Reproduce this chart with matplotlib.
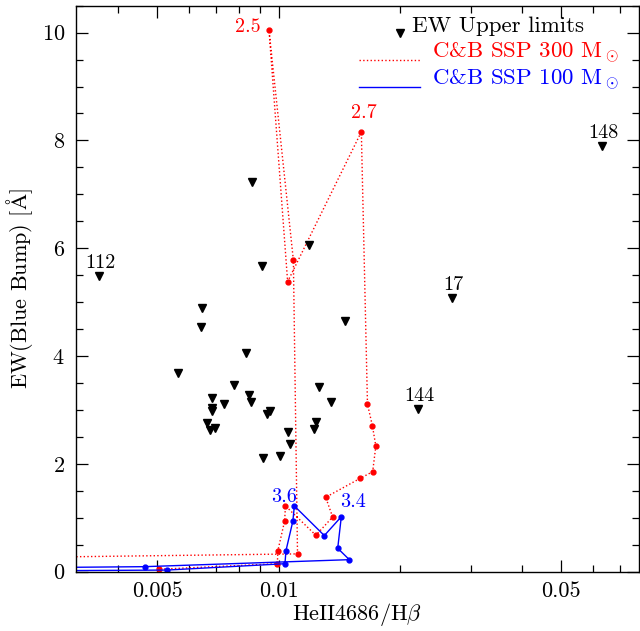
import numpy as np
import matplotlib
matplotlib.use('Agg')
import matplotlib.pyplot as plt
from matplotlib.ticker import FixedLocator, FixedFormatter, LogLocator, MultipleLocator, NullFormatter

plt.rcParams['font.family'] = ['cmr10', 'DejaVu Serif']
plt.rcParams['mathtext.fontset'] = 'cm'
plt.rcParams['axes.formatter.use_mathtext'] = True

# EW upper limits (HeII4686/Hbeta, EW blue bump)
uplim_x = [0.00360, 0.00860, 0.00909, 0.01189, 0.0633, 0.0269, 0.0222,
           0.00648, 0.00644, 0.00564, 0.00831, 0.01464, 0.00774, 0.00685,
           0.00731, 0.00685, 0.00683, 0.00846, 0.00853, 0.00664, 0.00695,
           0.00675, 0.00952, 0.00935, 0.01055, 0.01067, 0.00917, 0.01007,
           0.01259, 0.01346, 0.01236, 0.01224]
uplim_y = [5.49, 7.22, 5.68, 6.06, 7.90, 5.07, 3.02,
           4.90, 4.53, 3.69, 4.05, 4.65, 3.47, 3.23,
           3.12, 3.04, 2.98, 3.27, 3.14, 2.76, 2.67,
           2.62, 2.98, 2.93, 2.60, 2.37, 2.10, 2.15,
           3.43, 3.14, 2.77, 2.65]
# labelled objects: index into uplim arrays, label
obj_idx = [0, 4, 5, 6]
obj_names = ['112', '148', '17', '144']

# C&B SSP 300 Msun track
ssp300_x = [0.001, 0.01114, 0.01088, 0.00947, 0.01053, 0.01603, 0.01660,
            0.01708, 0.01741, 0.01710, 0.01591, 0.01308, 0.01361, 0.01237,
            0.01040, 0.01035, 0.00996, 0.00993, 0.00506]
ssp300_y = [0.23, 0.33, 5.78, 10.04, 5.38, 8.16, 3.11,
            2.70, 2.33, 1.855, 1.73, 1.38, 1.015, 0.675,
            1.22, 0.94, 0.39, 0.148, 0.045]

# C&B SSP 100 Msun track
ssp100_x = [0.001, 0.00529, 0.01037, 0.01043, 0.01085, 0.01094, 0.01298,
            0.01430, 0.01401, 0.01497, 0.00466, 0.001]
ssp100_y = [0.0, 0.03, 0.148, 0.39, 0.94, 1.22, 0.67,
            1.02, 0.434, 0.223, 0.093, 0.05]

# age labels (Myr): index on track, text
age300 = [(3, '2.5'), (5, '2.7')]
age100 = [(5, '3.6'), (7, '3.4')]

xticks = [0.005, 0.01, 0.05]
xticklabels = ['0.005', '0.01', '0.05']

fig = plt.figure(figsize=(6.4, 6.31), dpi=100)
ax = fig.add_axes([0.11875, 0.094, 0.8794, 0.897])

ax.plot(ssp300_x, ssp300_y, ls=':', color='red', lw=1.0,
        marker='o', ms=3.5, mec='red', mfc='red')
ax.plot(ssp100_x, ssp100_y, ls='-', color='blue', lw=1.0,
        marker='o', ms=3.5, mec='blue', mfc='blue')
ax.plot(uplim_x, uplim_y, ls='none', marker='v', ms=6, color='black')

fs = 16
afs = 14.5
for i, name in zip(obj_idx, obj_names):
    ax.annotate(name, (uplim_x[i], uplim_y[i]), xytext=(1, 13),
                textcoords='offset pixels', ha='center', va='center', fontsize=afs)

ax.annotate(age300[0][1], (ssp300_x[age300[0][0]], ssp300_y[age300[0][0]]),
            xytext=(-8, 3), textcoords='offset pixels', ha='right', va='center',
            color='red', fontsize=afs)
ax.annotate(age300[1][1], (ssp300_x[age300[1][0]], ssp300_y[age300[1][0]]),
            xytext=(3, 19), textcoords='offset pixels', ha='center', va='center',
            color='red', fontsize=afs)
ax.annotate(age100[0][1], (ssp100_x[age100[0][0]], ssp100_y[age100[0][0]]),
            xytext=(-10, 9), textcoords='offset pixels', ha='center', va='center',
            color='blue', fontsize=afs)
ax.annotate(age100[1][1], (ssp100_x[age100[1][0]], ssp100_y[age100[1][0]]),
            xytext=(12, 15), textcoords='offset pixels', ha='center', va='center',
            color='blue', fontsize=afs)

# legend drawn by hand
lfs = 16.5
ax.plot([0.5755], [0.951], transform=ax.transAxes, ls='none', marker='v',
        ms=6, color='black', clip_on=False)
ax.text(0.597, 0.963, 'EW Upper limits', transform=ax.transAxes,
        ha='left', va='center', fontsize=lfs)
ax.plot([0.503, 0.611], [0.904, 0.904], transform=ax.transAxes,
        ls=':', color='red', lw=1.0)
ax.text(0.632, 0.917, r'C&B SSP 300 M$_\odot$', transform=ax.transAxes,
        ha='left', va='center', fontsize=lfs, color='red')
ax.plot([0.503, 0.611], [0.856, 0.856], transform=ax.transAxes,
        ls='-', color='blue', lw=1.0)
ax.text(0.632, 0.870, r'C&B SSP 100 M$_\odot$', transform=ax.transAxes,
        ha='left', va='center', fontsize=lfs, color='blue')

ax.set_xscale('log')
ax.set_xlim(0.00315, 0.078)
ax.set_ylim(0, 10.5)

ax.xaxis.set_major_locator(FixedLocator(xticks))
ax.xaxis.set_major_formatter(FixedFormatter(xticklabels))
ax.xaxis.set_minor_locator(LogLocator(base=10, subs=np.arange(2, 10)))
ax.xaxis.set_minor_formatter(NullFormatter())
ax.yaxis.set_major_locator(MultipleLocator(2))
ax.yaxis.set_minor_locator(MultipleLocator(0.5))

ax.tick_params(which='both', direction='in', top=True, right=True,
               labelsize=fs, width=0.9)
ax.tick_params(which='major', length=8.5)
ax.tick_params(which='minor', length=4.7)
ax.tick_params(axis='x', which='major', pad=7)
ax.tick_params(axis='y', which='major', pad=8)
for s in ax.spines.values():
    s.set_linewidth(1.0)

ax.set_xlabel(r'HeII4686/H$\beta$', fontsize=fs, labelpad=0)
ax.set_ylabel(r'EW(Blue Bump) [$\mathrm{\AA}$]', fontsize=fs, labelpad=5)

fig.savefig('out.png', dpi=100)
